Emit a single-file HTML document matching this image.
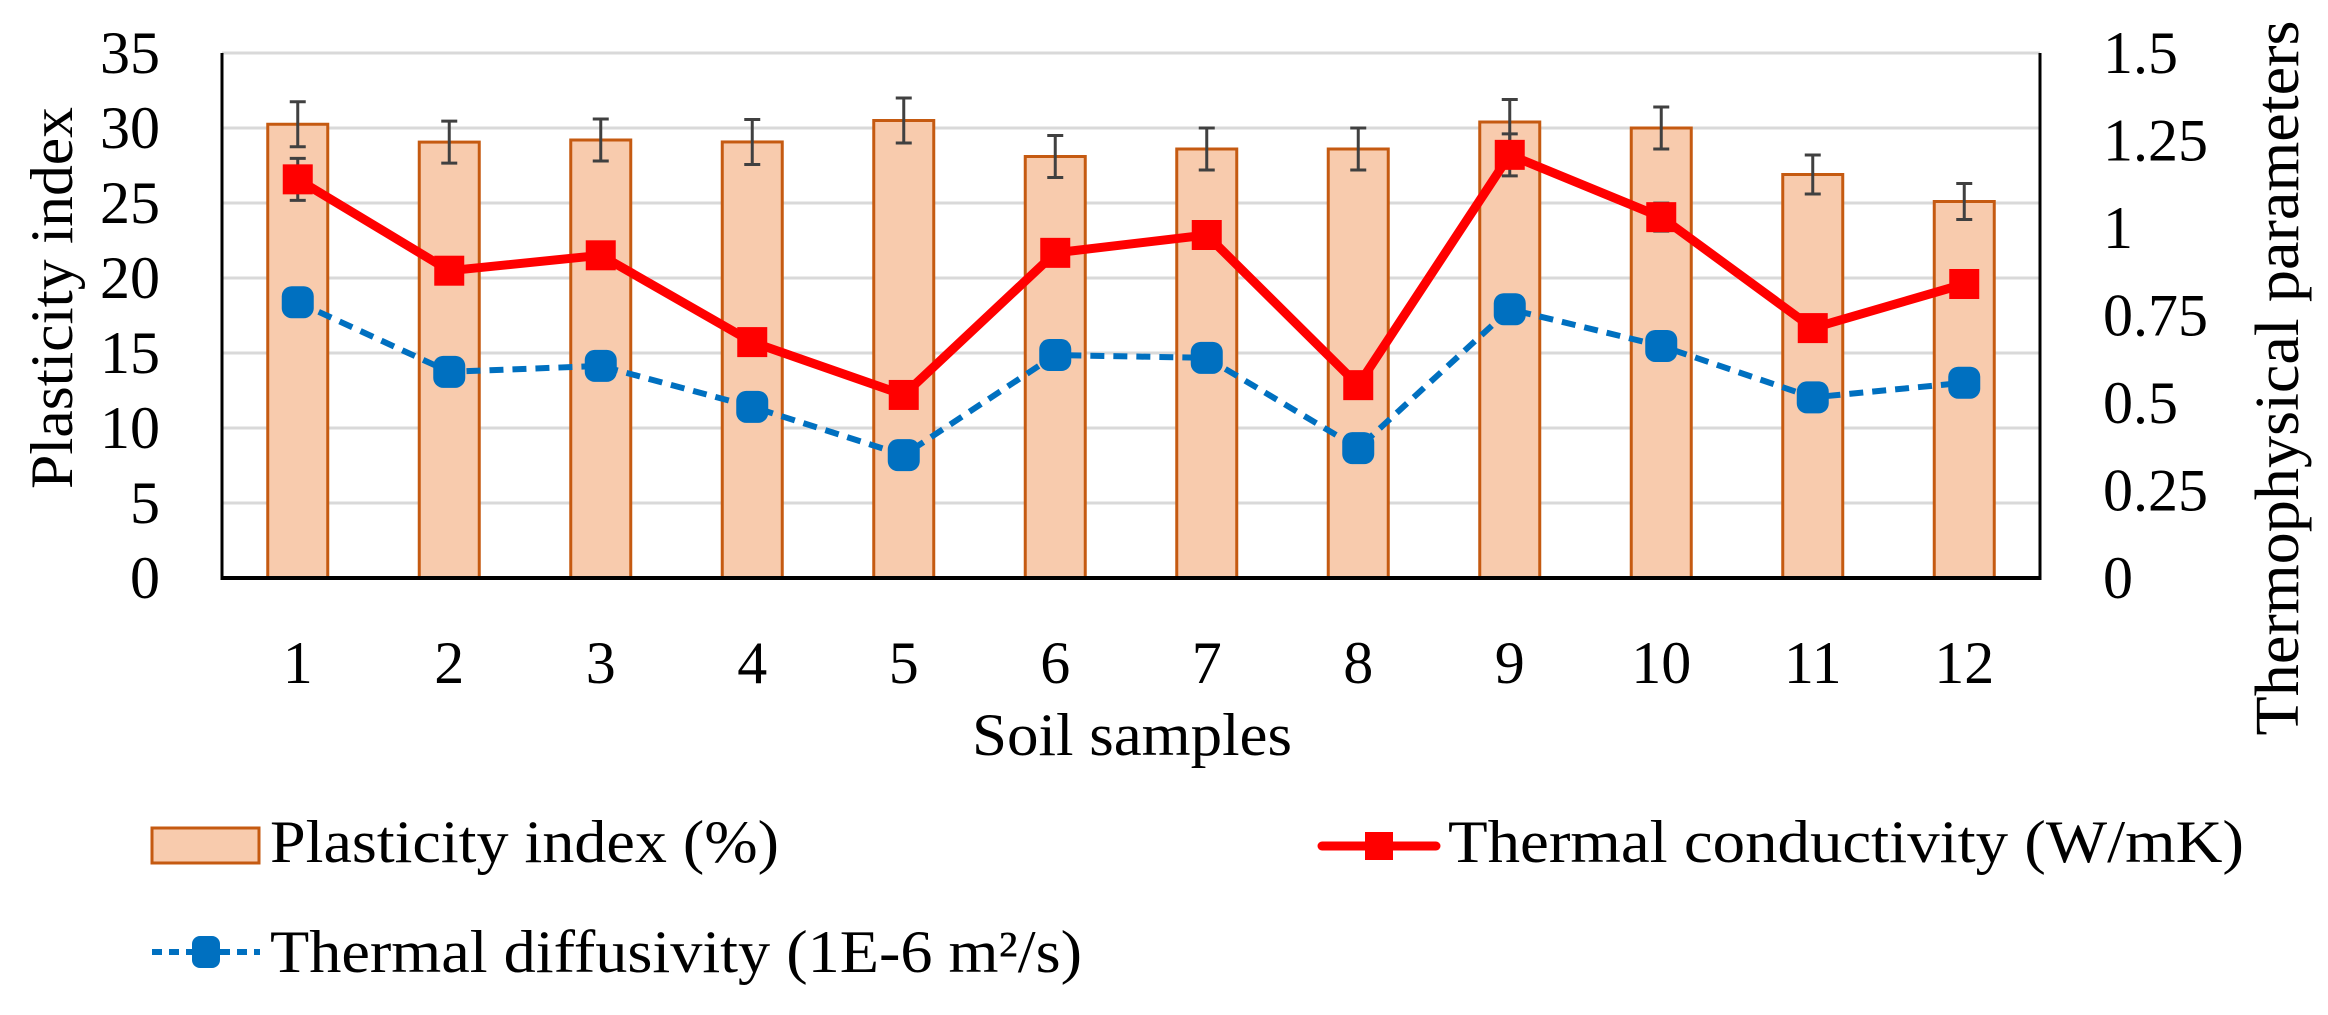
<!DOCTYPE html>
<html><head><meta charset="utf-8"><style>
html,body{margin:0;padding:0;background:#fff;}
svg{display:block;}
text{font-family:"Liberation Serif",serif;fill:#000;}
</style></head><body>
<svg id="chart" width="2328" height="1015" viewBox="0 0 2328 1015" xmlns="http://www.w3.org/2000/svg">
<g id="grid"></g>
<g id="bars"></g>
<g id="axes"></g>
<g id="lines"></g>
<g id="labels"></g>
<text transform="translate(72,298) rotate(-90)" text-anchor="middle" font-size="60" textLength="382" lengthAdjust="spacingAndGlyphs">Plasticity index</text>
<text transform="translate(2298,378) rotate(-90)" text-anchor="middle" font-size="62" textLength="715" lengthAdjust="spacingAndGlyphs">Thermophysical parameters</text>
<text x="972" y="755" font-size="60" textLength="320" lengthAdjust="spacingAndGlyphs">Soil samples</text>
<g>
  <g>
    <rect x="152" y="828" width="107" height="35" fill="#f8cbad" stroke="#c55a11" stroke-width="3"/>
    <text x="270" y="862" font-size="60" textLength="509" lengthAdjust="spacingAndGlyphs">Plasticity index (%)</text>
  </g>
  <g>
    <line x1="1322" y1="846" x2="1436" y2="846" stroke="#ff0000" stroke-width="9" stroke-linecap="round"/>
    <rect x="1365" y="832" width="28" height="28" fill="#ff0000"/>
    <text x="1448" y="862" font-size="60" textLength="796" lengthAdjust="spacingAndGlyphs">Thermal conductivity (W/mK)</text>
  </g>
  <g>
    <line x1="152" y1="952" x2="260" y2="952" stroke="#0070c0" stroke-width="6" stroke-dasharray="10 7"/>
    <rect x="192" y="936" width="28" height="32" rx="8" fill="#0070c0"/>
    <text x="270" y="972" font-size="60" textLength="812" lengthAdjust="spacingAndGlyphs">Thermal diffusivity (1E-6 m²/s)</text>
  </g>
</g>
</svg>
<script>
const categories = ["1","2","3","4","5","6","7","8","9","10","11","12"];
const plasticity = [30.25, 29.06, 29.2, 29.07, 30.5, 28.1, 28.6, 28.6, 30.4, 30.0, 26.9, 25.1];
const plasticityErr = [1.5, 1.4, 1.4, 1.5, 1.5, 1.4, 1.4, 1.4, 1.5, 1.4, 1.3, 1.2];
const conductivity = [1.139, 0.878, 0.922, 0.674, 0.523, 0.929, 0.98, 0.551, 1.209, 1.031, 0.714, 0.84];
const conductivityErr = [0.06, 0.03, 0.03, 0, 0, 0.03, 0.03, 0, 0.06, 0.04, 0, 0];
const diffusivity = [0.788, 0.589, 0.606, 0.489, 0.351, 0.637, 0.629, 0.371, 0.768, 0.663, 0.516, 0.558];
const leftTicks = [0,5,10,15,20,25,30,35];
const rightTicks = ["0","0.25","0.5","0.75","1","1.25","1.5"];

const NS = "http://www.w3.org/2000/svg";
const X0 = 222, X1 = 2040, Y0 = 578, Y1 = 53;
const band = (X1 - X0) / categories.length;
const xC = i => X0 + band * (i + 0.5);
const yL = v => Y0 - (v / 35) * (Y0 - Y1);
const yR = v => Y0 - (v / 1.5) * (Y0 - Y1);
function mk(tag, attrs, parent){const e=document.createElementNS(NS,tag);for(const k in attrs)e.setAttribute(k,attrs[k]);parent.appendChild(e);return e;}
const grid=document.getElementById('grid'), bars=document.getElementById('bars'), axes=document.getElementById('axes'), lines=document.getElementById('lines'), labels=document.getElementById('labels');

leftTicks.forEach(t=>{
  const y=yL(t);
  if(t>0){const g=mk('line',{x1:X0,x2:X1,y1:y,y2:y,stroke:'#d9d9d9','stroke-width':3},grid);
  
  }
  const tx=mk('text',{x:160,y:y+20,'text-anchor':'end','font-size':60},labels);
  tx.textContent=String(t);
  
  
});
rightTicks.forEach(t=>{
  const tx=mk('text',{x:2103,y:yR(parseFloat(t))+20,'font-size':60},labels);
  tx.textContent=t;
  
  
});
categories.forEach((c,i)=>{
  const tx=mk('text',{x:xC(i),y:683,'text-anchor':'middle','font-size':60},labels);
  tx.textContent=c;
  
  
});
plasticity.forEach((v,i)=>{
  const x=xC(i), w=60;
  const r=mk('rect',{x:x-w/2,y:yL(v),width:w,height:Y0-yL(v),fill:'#f8cbad',stroke:'#c55a11','stroke-width':3},bars);
  
  
  const e=plasticityErr[i], yt=yL(v+e), yb=yL(v-e);
  const eb=mk('path',{d:`M${x},${yt}V${yb}M${x-8},${yt}H${x+8}M${x-8},${yb}H${x+8}`,stroke:'#404040','stroke-width':3,fill:'none'},bars);
  
  
});
mk('line',{x1:X0,x2:X1,y1:Y0,y2:Y0,stroke:'#000','stroke-width':4},axes);
mk('line',{x1:X0,x2:X0,y1:Y1,y2:Y0+2,stroke:'#000','stroke-width':3},axes);
mk('line',{x1:X1,x2:X1,y1:Y1,y2:Y0+2,stroke:'#000','stroke-width':3},axes);

const dpts=diffusivity.map((v,i)=>xC(i)+','+yR(v)).join(' ');
const dl=mk('polyline',{points:dpts,fill:'none',stroke:'#0070c0','stroke-width':6,'stroke-dasharray':'14 9'},lines);


diffusivity.forEach((v,i)=>{
  const m=mk('rect',{x:xC(i)-16,y:yR(v)-16,width:32,height:32,rx:10,fill:'#0070c0'},lines);
  
  
});
conductivity.forEach((v,i)=>{
  const e=conductivityErr[i]; if(!e) return;
  const x=xC(i), yt=yR(v+e), yb=yR(v-e);
  const eb=mk('path',{d:`M${x},${yt}V${yb}M${x-8},${yt}H${x+8}M${x-8},${yb}H${x+8}`,stroke:'#404040','stroke-width':3,fill:'none'},lines);
  
  
});
const cpts=conductivity.map((v,i)=>xC(i)+','+yR(v)).join(' ');
const cl=mk('polyline',{points:cpts,fill:'none',stroke:'#ff0000','stroke-width':9,'stroke-linejoin':'round'},lines);


conductivity.forEach((v,i)=>{
  const m=mk('rect',{x:xC(i)-15,y:yR(v)-15,width:30,height:30,fill:'#ff0000'},lines);
  
  
});
</script>
</body></html>
